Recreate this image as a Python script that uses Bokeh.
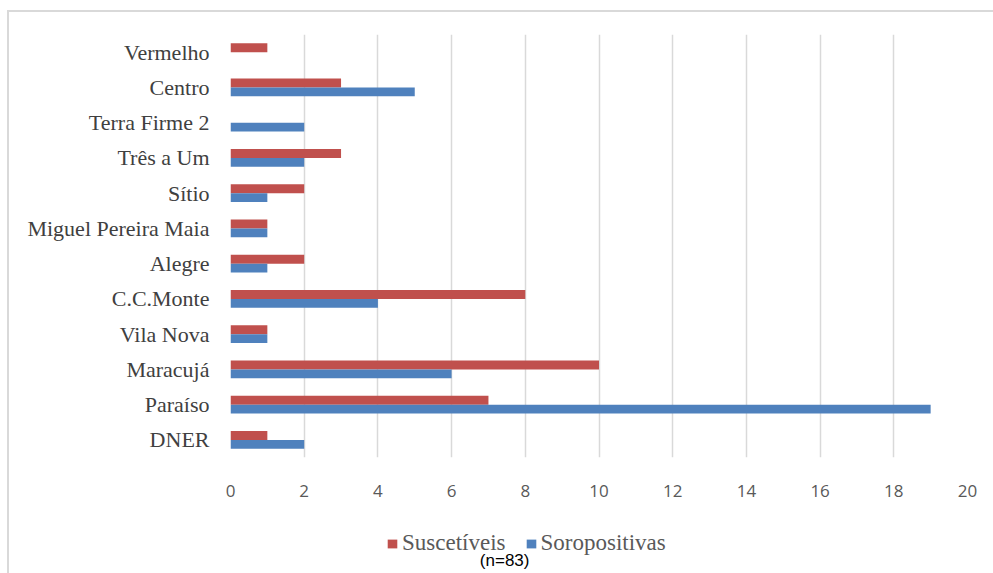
from bokeh.plotting import figure
from bokeh.layouts import column
from bokeh.models import (ColumnDataSource, Legend, LegendItem, Label,
                          FactorRange, FixedTicker)
from bokeh.transform import dodge
from bokeh.embed import file_html
from bokeh.resources import INLINE

categories = ["DNER", "Paraíso", "Maracujá", "Vila Nova", "C.C.Monte", "Alegre",
              "Miguel Pereira Maia", "Sítio", "Três a Um", "Terra Firme 2", "Centro", "Vermelho"]
suscetiveis = [1, 7, 10, 1, 8, 2, 1, 2, 3, 0, 3, 1]
soropositivas = [2, 19, 6, 1, 4, 1, 1, 1, 2, 2, 5, 0]
x_ticks = list(range(0, 21, 2))
series_names = ["Suscetíveis", "Soropositivas"]
note = "(n=83)"

RED = "#C0504D"
BLUE = "#4F81BD"
GRID = "#D9D9D9"

src = ColumnDataSource(dict(cat=categories, sus=suscetiveis, sor=soropositivas))

# ---------------- main chart ----------------
p = figure(width=984, height=508, y_range=FactorRange(*categories), x_range=(0, 20),
           output_backend="svg", toolbar_location=None,
           min_border_left=221, min_border_right=26, min_border_top=22, min_border_bottom=63)
p.outline_line_color = None
p.background_fill_color = "white"
p.border_fill_color = "white"

p.hbar(y=dodge("cat", 0.125, range=p.y_range), right="sus", left=0, height=0.25,
       source=src, fill_color=RED, line_color=None)
p.hbar(y=dodge("cat", -0.125, range=p.y_range), right="sor", left=0, height=0.25,
       source=src, fill_color=BLUE, line_color=None)

p.ygrid.grid_line_color = None
p.xgrid.grid_line_color = GRID
p.xgrid.grid_line_width = 1.5
p.xgrid.ticker = FixedTicker(ticks=x_ticks)

p.xaxis.ticker = FixedTicker(ticks=x_ticks)
p.xaxis.axis_line_color = None
p.xaxis.major_tick_line_color = None
p.xaxis.minor_tick_line_color = None
p.xaxis.major_label_text_font = "Open Sans"
p.xaxis.major_label_text_font_size = "17px"
p.xaxis.major_label_text_color = "#595959"
p.xaxis.major_label_standoff = 21

p.yaxis.axis_line_color = None
p.yaxis.major_tick_line_color = None
p.yaxis.minor_tick_line_color = None
p.yaxis.major_label_text_font = "Liberation Serif"
p.yaxis.major_label_text_font_size = "22px"
p.yaxis.major_label_text_color = "#404040"
p.yaxis.major_label_standoff = 15

# ---------------- legend strip (frame aligned with the chart frame) ----------------
lp = figure(width=984, height=53, x_range=(0, 1), y_range=(0, 1),
            output_backend="svg", toolbar_location=None,
            min_border_left=0, min_border_right=0, min_border_top=0, min_border_bottom=0)
lp.axis.visible = False
lp.grid.visible = False
lp.outline_line_color = None
lp.background_fill_color = "white"
lp.border_fill_color = "white"

# swatch renderers (hidden; they only supply the legend glyph styles)
sw_sus = lp.hbar(y=0.5, right="sus", left=0, height=0.25, source=src,
                 fill_color=RED, line_color=None, visible=False)
sw_sor = lp.hbar(y=0.5, right="sor", left=0, height=0.25, source=src,
                 fill_color=BLUE, line_color=None, visible=False)

legend = Legend(items=[LegendItem(label=series_names[0], renderers=[sw_sus]),
                       LegendItem(label=series_names[1], renderers=[sw_sor])],
                orientation="horizontal", location=(156, 17),
                glyph_width=12, glyph_height=11, label_standoff=4, spacing=19,
                padding=0, margin=0, border_line_color=None, background_fill_alpha=0,
                inactive_fill_alpha=0,
                label_text_font="Liberation Serif", label_text_font_size="23px",
                label_text_color="#595959", label_height=20)
lp.add_layout(legend, "center")

lp.add_layout(Label(x=0.372, y=0.245, text=note, text_font="Liberation Sans",
                    text_font_size="17px", text_color="#000000",
                    text_align="center", text_baseline="middle"))

layout = column(p, lp, spacing=0)
layout.margin = (10, 0, 0, 7)
layout.styles = {"border-left": "2px solid #D9D9D9", "border-top": "2px solid #D9D9D9"}

open("out.html", "w").write(file_html(layout, INLINE))
